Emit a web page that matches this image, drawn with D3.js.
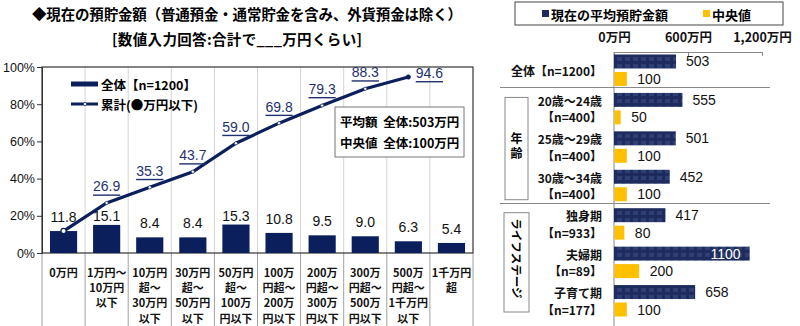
<!DOCTYPE html>
<html><head><meta charset="utf-8">
<script src="https://cdn.jsdelivr.net/npm/d3@7"></script>
<style>
html,body{margin:0;padding:0;background:#fff;}
svg{display:block;font-family:"Liberation Sans","Noto Sans CJK JP",sans-serif;}
</style></head>
<body><svg id="c" width="800" height="326"></svg>
<script>
// ---- data: left chart ----
const categories = ["0万円","1万円～\n10万円\n以下","10万円\n超～\n30万円\n以下","30万円\n超～\n50万円\n以下","50万円\n超～\n100万\n円以下","100万\n円超～\n200万\n円以下","200万\n円超～\n300万\n円以下","300万\n円超～\n500万\n円以下","500万\n円超～\n1千万円\n以下","1千万円\n超"];
const shareValues = [11.8,15.1,8.4,8.4,15.3,10.8,9.5,9.0,6.3,5.4];
const cumulativeValues = [11.8,26.9,35.3,43.7,59.0,69.8,79.3,88.3,94.6];
const yTicks = [0,20,40,60,80,100];
// ---- data: right chart ----
const groupRows = ["全体【n=1200】","20歳～24歳\n【n=400】","25歳～29歳\n【n=400】","30歳～34歳\n【n=400】","独身期\n【n=933】","夫婦期\n【n=89】","子育て期\n【n=177】"];
const averageValues = [503,555,501,452,417,1100,658];
const medianValues = [100,50,100,100,80,200,100];
const xTicks = [0,600,1200];
const xTickLabels = ["0万円","600万円","1,200万円"];

const NAVY = "#0b1f5c", NAVY2 = "#1d2b5e", YEL = "#ffc000", LINEC = "#0b1f5c";
const svg = d3.select("#c");

// defs pattern for right navy bars
const defs = svg.append("defs");
const pat = defs.append("pattern").attr("id","tex").attr("patternUnits","userSpaceOnUse")
  .attr("width",8).attr("height",7);
pat.append("rect").attr("width",8).attr("height",7).attr("fill",NAVY2);
pat.append("rect").attr("x",1).attr("y",1).attr("width",5).attr("height",4).attr("fill","#2f3f72");

// ---- titles ----
svg.append("text").attr("x",32).attr("y",20).attr("font-size",14.5).attr("font-weight","bold")
  .attr("font-family","Noto Sans CJK JP").attr("textLength",430).attr("lengthAdjust","spacing")
  .text("◆現在の預貯金額（普通預金・通常貯金を含み、外貨預金は除く）");
svg.append("text").attr("x",112).attr("y",45).attr("font-size",14.5).attr("font-weight","bold")
  .attr("font-family","Noto Sans CJK JP").attr("textLength",250).attr("lengthAdjust","spacing")
  .text("[数値入力回答:合計で___万円くらい]");

// ---- left chart ----
const L = {x0:42, x1:473, y0:253, y1:67};
const x = d3.scaleBand().domain(categories).range([L.x0,L.x1]);
const y = d3.scaleLinear().domain([0,100]).range([L.y0,L.y1]);
const bw = x.bandwidth()*0.63;
const cx = d => x(d)+x.bandwidth()/2;

const gl = svg.append("g");
// vertical gridlines
gl.selectAll(".vg").data(categories.slice(1)).join("line")
  .attr("x1",d=>x(d)).attr("x2",d=>x(d)).attr("y1",L.y1).attr("y2",L.y0)
  .attr("stroke","#d4d4d4").attr("stroke-width",1);
// separator lines below axis
gl.selectAll(".sep").data(categories.concat(["_end"])).join("line")
  .attr("x1",(d,i)=>L.x0+i*x.step()).attr("x2",(d,i)=>L.x0+i*x.step())
  .attr("y1",L.y0).attr("y2",326).attr("stroke","#a0a0a0").attr("stroke-width",1);
// frame
gl.append("rect").attr("x",L.x0).attr("y",L.y1).attr("width",L.x1-L.x0).attr("height",L.y0-L.y1)
  .attr("fill","none").attr("stroke","#333").attr("stroke-width",1.2);
// y axis
const yAxis = d3.axisLeft(y).tickValues(yTicks).tickSize(5).tickFormat(d=>d+"%");
const ya = gl.append("g").attr("transform",`translate(${L.x0},0)`).call(yAxis);
ya.select(".domain").attr("stroke","#333");
ya.selectAll(".tick line").attr("stroke","#333");
ya.selectAll(".tick text").attr("font-size",12.5).attr("fill","#111").attr("x",-7)
  .attr("font-family","Liberation Sans");

// bars
gl.selectAll(".bar").data(categories).join("rect")
  .attr("x",d=>cx(d)-bw/2).attr("width",bw)
  .attr("y",(d,i)=>y(shareValues[i])).attr("height",(d,i)=>L.y0-y(shareValues[i]))
  .attr("fill",NAVY);
// bar labels
gl.selectAll(".bl").data(categories).join("text")
  .attr("x",d=>cx(d)).attr("y",(d,i)=>Math.max(y(shareValues[i])-14,216))
  .attr("text-anchor","middle").attr("dominant-baseline","central")
  .attr("font-size",14).attr("fill","#111").text((d,i)=>shareValues[i].toFixed(1));

// cumulative line
const cumCats = categories.slice(0,cumulativeValues.length);
const line = d3.line().x((d,i)=>cx(cumCats[i])).y(d=>y(d));
gl.append("path").datum(cumulativeValues).attr("d",line).attr("fill","none")
  .attr("stroke",LINEC).attr("stroke-width",3.2);
gl.selectAll(".pt").data(cumulativeValues).join("circle")
  .attr("cx",(d,i)=>cx(cumCats[i])).attr("cy",d=>y(d))
  .attr("r",(d,i)=>i===0?2.6:(i===cumulativeValues.length-1?2.2:1.6))
  .attr("fill",(d,i)=>i===cumulativeValues.length-1?LINEC:"#fff")
  .attr("stroke",LINEC).attr("stroke-width",(d,i)=>i===0?1.2:0.6);
const last = cumulativeValues.length-1;
gl.selectAll(".cl").data(cumulativeValues.map((v,i)=>({v,i})).filter(o=>o.i>0)).join("text")
  .attr("x",o=>cx(cumCats[o.i])+(o.i===last?21:0))
  .attr("y",o=>y(o.v)-(o.i===last?4:16.5))
  .attr("text-anchor","middle").attr("dominant-baseline","central")
  .attr("font-size",14).attr("fill","#1f3170").attr("text-decoration","underline")
  .text(o=>o.v.toFixed(1));

// category labels
const cl = gl.selectAll(".cat").data(categories).join("text")
  .attr("text-anchor","middle").attr("font-size",11).attr("font-weight","bold")
  .attr("font-family","Noto Sans CJK JP").attr("fill","#111");
cl.each(function(d){
  const t = d3.select(this);
  d.split("\n").forEach((s,j)=>{
    t.append("tspan").attr("x",cx(d)).attr("y",277+j*15.2).text(s);
  });
});

// legend inside left chart
gl.append("line").attr("x1",71).attr("x2",98).attr("y1",84).attr("y2",84).attr("stroke",NAVY).attr("stroke-width",5);
gl.append("text").attr("x",101).attr("y",84).attr("dominant-baseline","central").attr("font-size",12.5)
  .attr("font-weight","bold").attr("font-family","Noto Sans CJK JP").text("全体【n=1200】");
gl.append("line").attr("x1",71).attr("x2",98).attr("y1",104).attr("y2",104).attr("stroke",LINEC).attr("stroke-width",3);
gl.append("circle").attr("cx",85).attr("cy",104).attr("r",1.6).attr("fill","#fff").attr("stroke",LINEC).attr("stroke-width",0.6);
gl.append("text").attr("x",101).attr("y",104).attr("dominant-baseline","central").attr("font-size",12.5)
  .attr("font-weight","bold").attr("font-family","Noto Sans CJK JP").text("累計(●万円以下)");

// info box
gl.append("rect").attr("x",335).attr("y",107).attr("width",129).attr("height",50)
  .attr("fill","#fff").attr("stroke","#777").attr("stroke-width",1);
gl.append("text").attr("x",340).attr("y",121).attr("dominant-baseline","central").attr("font-size",12.5)
  .attr("font-weight","bold").attr("font-family","Noto Sans CJK JP").attr("xml:space","preserve").text("平均額  全体:503万円");
gl.append("text").attr("x",340).attr("y",142).attr("dominant-baseline","central").attr("font-size",12.5)
  .attr("font-weight","bold").attr("font-family","Noto Sans CJK JP").attr("xml:space","preserve").text("中央値  全体:100万円");

// ---- right chart ----
const R = {x0:614, x1:762, yTop:52, y0:51, y1:320};
const x2 = d3.scaleLinear().domain([0,1200]).range([R.x0,R.x1]);
const y2 = d3.scaleBand().domain(groupRows).range([R.y0,R.y1]);
const sub = d3.scaleBand().domain(["avg","med"]).range([0,y2.bandwidth()]).paddingInner(0.2).paddingOuter(0.2);
const gr = svg.append("g");

// legend
gr.append("rect").attr("x",515).attr("y",2).attr("width",268).attr("height",23).attr("fill","#fff")
  .attr("stroke","#444").attr("stroke-width",1);
gr.append("rect").attr("x",542).attr("y",10).attr("width",7).attr("height",7).attr("fill",NAVY2);
gr.append("text").attr("x",551).attr("y",14).attr("dominant-baseline","central").attr("font-size",13)
  .attr("font-weight","bold").attr("font-family","Noto Sans CJK JP").text("現在の平均預貯金額");
gr.append("rect").attr("x",703).attr("y",10).attr("width",7).attr("height",7).attr("fill",YEL);
gr.append("text").attr("x",712).attr("y",14).attr("dominant-baseline","central").attr("font-size",13)
  .attr("font-weight","bold").attr("font-family","Noto Sans CJK JP").text("中央値");

// top axis
const xAxis = d3.axisTop(x2).tickValues(xTicks).tickSize(-4).tickFormat((d,i)=>xTickLabels[i]);
const xa = gr.append("g").attr("transform",`translate(0,${R.yTop})`).call(xAxis);
xa.select(".domain").attr("stroke","#888");
xa.selectAll(".tick line").attr("stroke","#888");
xa.selectAll(".tick text").attr("y",-10).attr("font-size",12.5).attr("font-weight","bold")
  .attr("font-family","Noto Sans CJK JP").attr("fill","#111");
// vertical baseline
gr.append("line").attr("x1",R.x0).attr("x2",R.x0).attr("y1",R.yTop).attr("y2",326).attr("stroke","#888");
// separators
[1,4].forEach(k=>{
  const yy = Math.round(y2(groupRows[k]))-1.5;
  gr.append("line").attr("x1",500).attr("x2",770).attr("y1",yy).attr("y2",yy).attr("stroke","#888");
});

// bars
gr.selectAll(".ab").data(groupRows).join("rect")
  .attr("x",R.x0).attr("y",d=>y2(d)+sub("avg")).attr("height",sub.bandwidth())
  .attr("width",(d,i)=>x2(averageValues[i])-R.x0).attr("fill","url(#tex)");
gr.selectAll(".mb").data(groupRows).join("rect")
  .attr("x",R.x0+0.5).attr("y",d=>y2(d)+sub("med")).attr("height",sub.bandwidth())
  .attr("width",(d,i)=>x2(medianValues[i])-R.x0).attr("fill",YEL);
// value labels
gr.selectAll(".al").data(groupRows).join("text")
  .attr("x",(d,i)=>averageValues[i]>900?x2(averageValues[i])-9:x2(averageValues[i])+10)
  .attr("y",d=>y2(d)+sub("avg")+sub.bandwidth()/2)
  .attr("text-anchor",(d,i)=>averageValues[i]>900?"end":"start")
  .attr("dominant-baseline","central").attr("font-size",14)
  .attr("fill",(d,i)=>averageValues[i]>900?"#fff":"#111").text((d,i)=>averageValues[i]);
gr.selectAll(".ml").data(groupRows).join("text")
  .attr("x",(d,i)=>x2(medianValues[i])+11)
  .attr("y",d=>y2(d)+sub("med")+sub.bandwidth()/2)
  .attr("dominant-baseline","central").attr("font-size",14).attr("fill","#111")
  .text((d,i)=>medianValues[i]);
// row labels
gr.selectAll(".rl").data(groupRows).join("text")
  .attr("text-anchor","end").attr("font-size",12).attr("font-weight","bold")
  .attr("font-family","Noto Sans CJK JP").attr("fill","#111")
  .each(function(d){
    const t = d3.select(this); const parts = d.split("\n");
    const c = y2(d)+y2.bandwidth()/2;
    parts.forEach((s,j)=>{
      t.append("tspan").attr("x",602).attr("y",c+(j-(parts.length-1)/2)*16.5)
        .attr("dominant-baseline","central").text(s);
    });
  });

// group boxes
const b1 = y2(groupRows[1]), b3 = y2(groupRows[3])+y2.bandwidth();
gr.append("rect").attr("x",505).attr("y",b1+8).attr("width",23).attr("height",b3-b1-13)
  .attr("fill","#fff").attr("stroke","#888");
["年","齢"].forEach((ch,j)=>{
  gr.append("text").attr("x",516.5).attr("y",(b1+b3)/2-2+(j-0.5)*15.5).attr("text-anchor","middle")
    .attr("dominant-baseline","central").attr("font-size",12).attr("font-weight","bold")
    .attr("font-family","Noto Sans CJK JP").text(ch);
});
const b4 = y2(groupRows[4]), b6 = y2(groupRows[6])+y2.bandwidth();
gr.append("rect").attr("x",504).attr("y",b4+8).attr("width",25).attr("height",b6-b4-16)
  .attr("fill","#fff").attr("stroke","#888");
gr.append("text").attr("transform",`translate(516.5,${(b4+b6)/2-4}) rotate(90)`)
  .attr("text-anchor","middle").attr("dominant-baseline","central").attr("font-size",11.5)
  .attr("font-weight","bold").attr("font-family","Noto Sans CJK JP").text("ライフステージ");
</script></body></html>
